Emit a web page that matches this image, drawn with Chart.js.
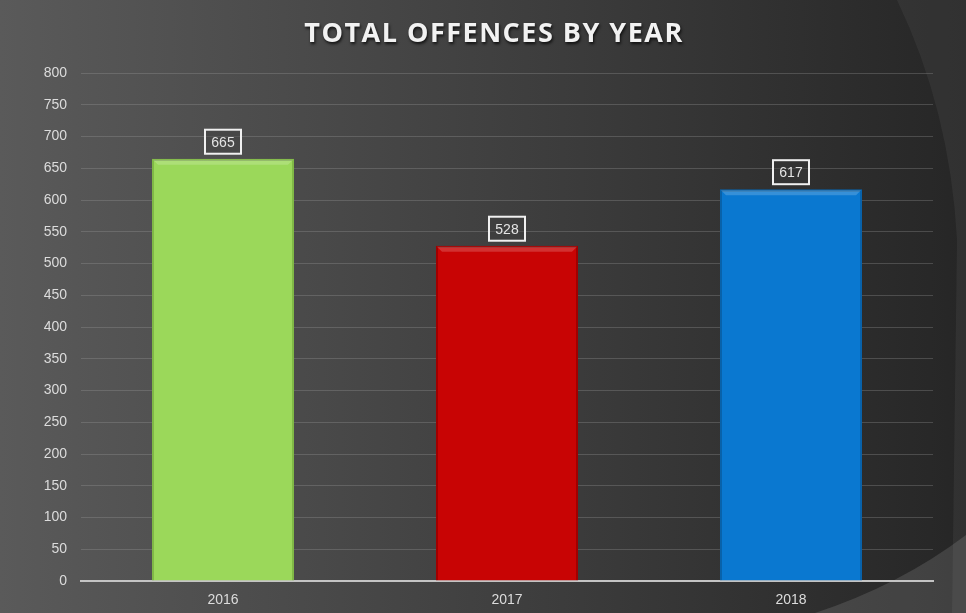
<!DOCTYPE html>
<html>
<head>
<meta charset="utf-8">
<script src="https://cdn.jsdelivr.net/npm/chart.js@4"></script>
<style>
  html, body { margin: 0; padding: 0; background: #2a2a2a; }
  #wrap { width: 966px; height: 613px; }
</style>
</head>
<body>
<div id="wrap"><canvas id="c" width="966" height="613"></canvas></div>
<script>
// Offences recorded per year
const chartTitle = 'TOTAL OFFENCES BY YEAR';
const years = ['2016', '2017', '2018'];
const offences = [665, 528, 617];
const barColors = ['#9BD85A', '#C80404', '#0A78D0'];
const barEdges = ['#80B846', '#A00000', '#0862AA'];
const yTicks = [0, 50, 100, 150, 200, 250, 300, 350, 400, 450, 500, 550, 600, 650, 700, 750, 800];

const tickFont = { family: '"Liberation Sans", Arial, sans-serif', size: 14 };

// Slide-style backdrop: grey gradient with sweeping arcs on the right
const backdrop = {
  id: 'backdrop',
  beforeDraw(chart) {
    const { ctx, width, height } = chart;
    ctx.save();
    const g = ctx.createLinearGradient(0, 0, width, 0);
    g.addColorStop(0, '#5a5a5a');
    g.addColorStop(0.45, '#434343');
    g.addColorStop(1, '#262626');
    ctx.fillStyle = g;
    ctx.fillRect(0, 0, width, height);
    // lighter band along the right edge
    ctx.beginPath();
    ctx.moveTo(897, 0);
    ctx.quadraticCurveTo(950, 110, 957, 240);
    ctx.lineTo(952, 613);
    ctx.lineTo(966, 613);
    ctx.lineTo(966, 0);
    ctx.closePath();
    ctx.fillStyle = 'rgba(255,255,255,0.05)';
    ctx.fill();
    // bottom-right wedge
    ctx.beginPath();
    ctx.moveTo(815, 613);
    ctx.quadraticCurveTo(900, 585, 966, 535);
    ctx.lineTo(966, 613);
    ctx.closePath();
    ctx.fillStyle = 'rgba(255,255,255,0.12)';
    ctx.fill();
    ctx.restore();
  }
};

// Spaced, shadowed heading across the top
const heading = {
  id: 'heading',
  afterDraw(chart) {
    const { ctx, width } = chart;
    ctx.save();
    ctx.font = 'bold 27px "Open Sans", sans-serif';
    if ('letterSpacing' in ctx) ctx.letterSpacing = '1.5px';
    ctx.textAlign = 'center';
    ctx.textBaseline = 'middle';
    ctx.shadowColor = 'rgba(0,0,0,0.75)';
    ctx.shadowBlur = 3;
    ctx.shadowOffsetX = 1;
    ctx.shadowOffsetY = 2;
    ctx.fillStyle = '#f2f2f2';
    ctx.fillText(chartTitle, width / 2 + 11, 34);
    ctx.restore();
  }
};

// Bevelled top edge plus boxed value label above each bar
const barDecor = {
  id: 'barDecor',
  afterDatasetsDraw(chart) {
    const { ctx } = chart;
    const meta = chart.getDatasetMeta(0);
    ctx.save();
    meta.data.forEach((bar) => {
      const half = bar.width / 2;
      const l = bar.x - half, r = bar.x + half, t = bar.y;
      ctx.beginPath();
      ctx.moveTo(l + 1, t + 1);
      ctx.lineTo(r - 1, t + 1);
      ctx.lineTo(r - 6, t + 6);
      ctx.lineTo(l + 6, t + 6);
      ctx.closePath();
      ctx.fillStyle = 'rgba(255,255,255,0.18)';
      ctx.fill();
    });
    ctx.font = '14px "Liberation Sans", Arial, sans-serif';
    ctx.textAlign = 'center';
    ctx.textBaseline = 'middle';
    meta.data.forEach((bar, i) => {
      const text = String(chart.data.datasets[0].data[i]);
      const w = 36, h = 24;
      const cx = bar.x, cy = bar.y - 5 - h / 2;
      ctx.fillStyle = 'rgba(60,60,60,0.35)';
      ctx.fillRect(cx - w / 2, cy - h / 2, w, h);
      ctx.strokeStyle = '#f0f0f0';
      ctx.lineWidth = 2;
      ctx.strokeRect(cx - w / 2, cy - h / 2, w, h);
      ctx.fillStyle = '#e4e4e4';
      ctx.fillText(text, cx, cy + 1);
    });
    ctx.restore();
  }
};

new Chart(document.getElementById('c'), {
  type: 'bar',
  data: {
    labels: years,
    datasets: [{
      data: offences,
      backgroundColor: barColors,
      borderColor: barEdges,
      borderWidth: 2,
      borderSkipped: 'bottom',
      barPercentage: 0.5,
      categoryPercentage: 1.0
    }]
  },
  options: {
    responsive: false,
    animation: false,
    layout: { padding: { left: 0, right: 33, top: 73, bottom: 0 } },
    plugins: {
      legend: { display: false },
      tooltip: { enabled: false },
      title: { display: false }
    },
    scales: {
      x: {
        grid: { display: false },
        border: { display: true, color: '#c4c4c4', width: 2 },
        afterFit(scale) { scale.height = 32; },
        ticks: { color: '#dcdcdc', font: tickFont, padding: 3 }
      },
      y: {
        min: 0,
        max: 800,
        afterBuildTicks(scale) { scale.ticks = yTicks.map(v => ({ value: v })); },
        afterFit(scale) { scale.width = 81; },
        grid: {
          drawTicks: false,
          color: (c) => c.tick && c.tick.value === 0 ? 'rgba(0,0,0,0)' : 'rgba(160,160,160,0.3)',
          lineWidth: 1
        },
        border: { display: false },
        ticks: { color: '#dcdcdc', font: tickFont, padding: 14 }
      }
    }
  },
  plugins: [backdrop, barDecor, heading]
});
</script>
</body>
</html>
